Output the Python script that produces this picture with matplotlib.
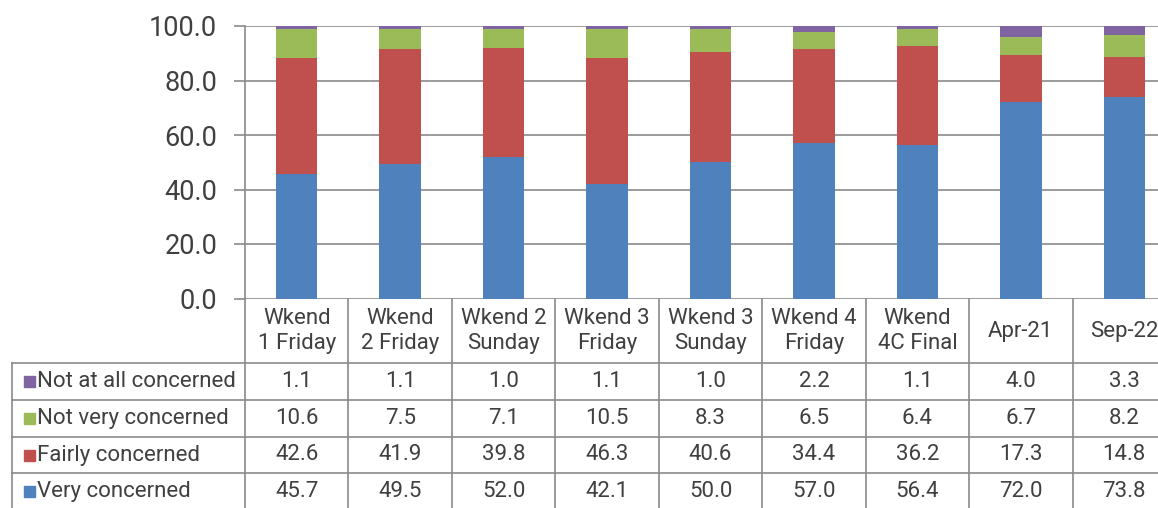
import matplotlib.pyplot as plt
from matplotlib.lines import Line2D
from matplotlib.patches import Rectangle
from matplotlib.transforms import blended_transform_factory

plt.rcParams['font.family'] = ['Roboto', 'DejaVu Sans']

categories = ["Wkend\n1 Friday", "Wkend\n2 Friday", "Wkend 2\nSunday", "Wkend 3\nFriday",
              "Wkend 3\nSunday", "Wkend 4\nFriday", "Wkend\n4C Final", "Apr-21", "Sep-22"]
very = [45.7, 49.5, 52.0, 42.1, 50.0, 57.0, 56.4, 72.0, 73.8]
fairly = [42.6, 41.9, 39.8, 46.3, 40.6, 34.4, 36.2, 17.3, 14.8]
not_very = [10.6, 7.5, 7.1, 10.5, 8.3, 6.5, 6.4, 6.7, 8.2]
not_at_all = [1.1, 1.1, 1.0, 1.1, 1.0, 2.2, 1.1, 4.0, 3.3]

series = [("Very concerned", very, "#4F81BD"),
          ("Fairly concerned", fairly, "#C0504D"),
          ("Not very concerned", not_very, "#9BBB59"),
          ("Not at all concerned", not_at_all, "#8064A2")]

W, H = 1158, 508
txt = "#404040"
grid_c = "#8a8a8a"
fs = 16

fig = plt.figure(figsize=(W / 100, H / 100), dpi=100)
# axes spans a bit past the right edge, like the cropped original
ax = fig.add_axes([245 / W, 1 - 298.5 / H, (1176 - 245) / W, (298.5 - 26) / H])

n = len(categories)
x = list(range(n))
bottom = [0.0] * n
for name, vals, col in series:
    ax.bar(x, vals, width=0.4, bottom=bottom, color=col, zorder=3)
    bottom = [b + v for b, v in zip(bottom, vals)]

ax.set_xlim(-0.5, n - 0.5)
ax.set_ylim(0, 100)
ax.set_yticks([0, 20, 40, 60, 80, 100])
ax.set_yticklabels([f"{v:.1f}" for v in [0, 20, 40, 60, 80, 100]])
ax.yaxis.grid(True, color=grid_c, lw=1.2, zorder=0)
ax.tick_params(axis='y', length=8, width=1.2, color=grid_c, labelsize=19.5,
               labelcolor=txt, pad=12)
ax.tick_params(axis='x', length=0, labelbottom=False)
for s in ["top", "right", "bottom"]:
    ax.spines[s].set_visible(False)
ax.spines["left"].set_color(grid_c)
ax.spines["left"].set_linewidth(1.2)

# data table under the bars
tr = blended_transform_factory(ax.transData, fig.transFigure)


def fy(py):
    return 1 - py / H


lab_left = -0.5 + (12 - 245) / 103.5
row_lines = [363, 400, 437, 473, 510]
lkw = dict(color=grid_c, lw=1.2, transform=tr, clip_on=False)

# vertical column lines
for i in range(n + 1):
    fig.add_artist(Line2D([i - 0.5, i - 0.5], [fy(298.5), fy(515)], **lkw))
fig.add_artist(Line2D([lab_left, lab_left], [fy(363), fy(515)], **lkw))
# horizontal lines
for ry in row_lines:
    fig.add_artist(Line2D([lab_left, n], [fy(ry), fy(ry)], **lkw))

# header row
for i, c in enumerate(categories):
    fig.text(i, fy(331), c, transform=tr, ha="center", va="center", fontsize=fs,
             color=txt, linespacing=1.2)

# data rows, top row is the last series
for r, (name, vals, col) in enumerate(reversed(series)):
    yc = fy((row_lines[r] + row_lines[r + 1]) / 2)
    fig.add_artist(Rectangle((24 / W, yc - 5.5 / H), 11 / W, 11 / H, color=col,
                             transform=fig.transFigure))
    fig.text(37 / W, yc, name, ha="left", va="center", fontsize=fs, color=txt)
    for i, v in enumerate(vals):
        fig.text(i, yc, f"{v:.1f}", transform=tr, ha="center", va="center",
                 fontsize=fs, color=txt)

fig.savefig("out.png", dpi=100)
